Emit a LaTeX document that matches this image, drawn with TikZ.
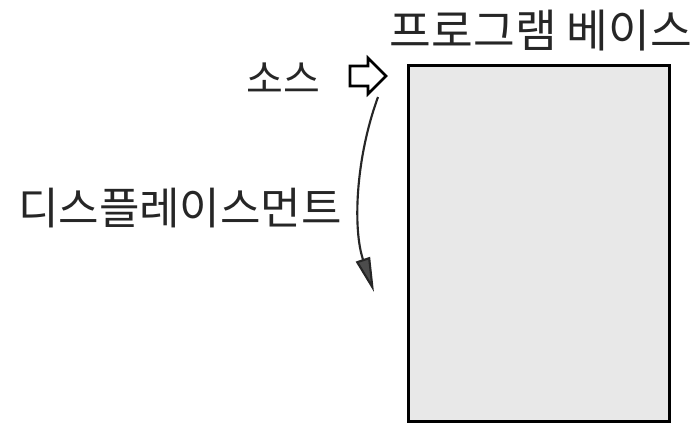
\documentclass[tikz,border=0pt]{standalone}
\usepackage{fontspec}
\newfontfamily\kr{Noto Sans CJK KR}[Scale=1]
\usetikzlibrary{shapes.arrows,arrows.meta}
\begin{document}
\begin{tikzpicture}[x=0.75pt,y=-0.75pt,
  lbl/.style={font=\kr\fontsize{#1}{#1}\selectfont, inner sep=0pt, text=black!85},
  base/.style={draw=black, line width=2.2pt, fill=black!9},
  hollow/.style={single arrow, draw=black, line width=2pt, fill=white, minimum height=27pt, inner xsep=0pt, inner ysep=6.5pt, single arrow head extend=6pt},
  move/.style={draw=black!85, line width=1.6pt, -{Triangle[length=26pt,width=11pt,fill=black!70]}}]
\useasboundingbox (0,0) rectangle (700,433);
\node[base, minimum width=261*0.75pt, minimum height=356*0.75pt, inner sep=0pt, anchor=north west] (prog) at (407,64) {};
\node[lbl=34] (title) at (541,31) {프로그램 베이스};
\node[lbl=30] (src) at (283,78) {소스};
\node[hollow] (arr) at (363,76) {};
\node[lbl=33] (disp) at (180,208) {디스플레이스먼트};
\coordinate (s) at (378,97);
\coordinate (e) at (374,292);
\draw[move] (s) .. controls (355,160) and (353,230) .. (e);
\end{tikzpicture}
\end{document}
